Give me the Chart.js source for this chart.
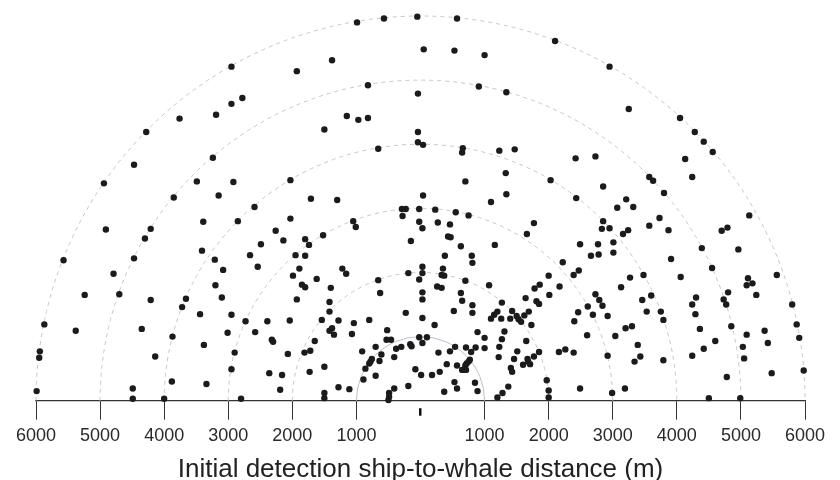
<!DOCTYPE html>
<html>
<head>
<meta charset="utf-8">
<script src="https://cdn.jsdelivr.net/npm/chart.js@4/dist/chart.umd.min.js"></script>
<style>
  body { margin: 0; background: #fff; }
</style>
</head>
<body>
<canvas id="chart" width="840" height="480"></canvas>
<script>
// Sighting positions in metres: [lateral (left -, right +), ahead]
const sightings = [
  [-3760,4400],[-3190,4460],[-4280,4190],[-4470,3680],[-3240,3790],[-4940,3390],[-3490,3420],[-3850,3170],[-3150,3200],
  [-990,5900],[-570,5960],[-50,5990],[-2950,5210],[-1380,5310],[-1930,5140],[-820,4920],[-40,4790],[-2950,4630],
  [-2780,4720],[-1150,4440],[-970,4380],[-820,4410],[-1500,4230],[-40,4190],[-40,4030],[-660,3930],[-2920,3410],
  [-2030,3440],[-1710,3150],[-1300,3130],
  [570,5960],[2100,5610],[2950,5210],[50,5480],[530,5460],[1000,5390],[910,4900],[1340,4810],[40,3990],[660,3940],
  [650,3870],[1230,3900],[1470,3920],[2420,3780],[2730,3810],[1330,3550],[700,3420],[2030,3440],[2850,3340],[40,3200],
  [1340,3220],[1100,3100],[2430,3160],
  [3250,4550],[4050,4410],[4280,4190],[4420,4040],[4560,3880],[4130,3770],[4240,3490],[3570,3490],[3630,3430],
  [3800,3240],[3210,3140],
  [-3390,2790],[-4910,2670],[-4210,2680],[-4300,2530],[-3410,2340],[-3210,2200],[-5570,2190],[-4470,2220],[-3080,2040],
  [-4790,1980],[-3200,1800],[-4700,1660],[-5240,1650],[-3100,1610],[-3660,1590],[-4210,1570],[-3720,1460],[-3440,1350],
  [-5870,1190],[-5380,1090],[-4350,1120],[-3870,1000],[-3380,870],[-5940,770],[-5950,670],[-4140,690],[-3880,300],
  [-3340,260],[-5990,150],[-4490,190],[-4490,30],[-4000,30],
  [-2590,3020],[-2850,2800],[-2030,2840],[-290,2990],[-230,2990],[-20,2990],[-280,2880],[-1050,2800],[-1010,2710],
  [-20,2790],[-2260,2650],[-2140,2500],[-1800,2520],[-1740,2430],[-1520,2580],[-2490,2440],[-150,2490],[-2660,2270],
  [-1950,2270],[-1800,2260],[-2540,2090],[-1890,2060],[-1220,2060],[-1160,1980],[-190,1990],[-20,1890],[-660,1880],
  [-630,1680],[-1990,1950],[-1620,1900],[-1850,1810],[-1800,1770],[-1400,1760],[-1930,1580],[-1420,1540],[-1420,1390],
  [-2950,1340],[-2730,1240],[-2390,1240],[-2040,1250],[-1540,1260],[-1280,1250],[-1040,1210],[-800,1260],[-230,1370],
  [-3010,1060],[-2580,1070],[-1420,1090],[-1380,1130],[-1350,1030],[-1070,1040],[-520,1100],[-2320,950],[-2300,920],
  [-1650,930],[-530,950],[-460,950],[-20,990],[-160,880],[-140,850],[-300,840],[-380,810],[-700,840],[-2900,750],
  [-1810,750],[-1720,780],[-2070,730],[-910,770],[-610,720],[-760,650],[-780,610],[-800,580],[-640,620],[-410,680],
  [-2950,490],[-1500,530],[-860,500],[-80,490],[-2360,430],[-1730,450],[-2160,400],[-890,330],[-700,390],[-2190,170],
  [-1280,210],[-1110,180],[-410,190],[-190,230],[-1500,120],[-1500,40],[-2800,30],[-490,120],[-490,60],[-500,10],
  [230,2980],[550,2940],[750,2890],[30,2690],[270,2780],[460,2750],[430,2560],[470,2550],[630,2410],[1160,2430],
  [1660,2600],[1770,2770],[380,2260],[800,2260],[810,2150],[30,2090],[350,2060],[30,1990],[330,1960],[370,1950],
  [260,1780],[330,1760],[700,1870],[1070,1800],[30,1690],[30,1580],[630,1680],[650,1560],[810,1490],[810,1370],
  [520,1400],[30,1290],[220,1180],[1270,1530],[1430,1400],[1200,1390],[1150,1340],[1100,1280],[1260,1280],[1400,1280],
  [1500,1320],[1530,1270],[1570,1230],[1620,1330],[1690,1390],[1730,1180],[1640,1600],[1810,1550],[1850,1510],
  [1780,1750],[1860,1810],[2000,1950],[2010,1650],[2170,1780],[2220,2160],[2390,1960],[2470,2030],[2490,2440],
  [2660,2260],[2770,2440],[2780,2280],[2850,2800],[2830,2680],[2950,2690],[3010,2470],[3010,2310],[2730,1660],
  [2790,1570],[2840,1480],[2610,1470],[2460,1380],[2690,1340],[2920,1320],[2400,1240],[2600,1020],[30,900],[100,990],
  [10,400],[890,1070],[1000,980],[1000,820],[1270,960],[1310,1080],[1230,840],[1650,930],[1510,770],[540,840],
  [460,770],[280,750],[710,830],[790,760],[860,830],[1220,680],[1460,650],[1670,650],[1680,610],[1770,690],[1850,760],
  [1600,560],[1710,570],[2160,760],[2260,800],[2390,750],[2920,700],[770,640],[750,610],[720,580],[700,550],[570,550],
  [410,570],[300,450],[180,400],[650,480],[710,480],[1410,510],[1430,450],[530,290],[570,190],[850,280],[890,150],
  [370,140],[1370,220],[1280,120],[1200,50],[1970,320],[2000,160],[2000,50],[2490,190],[2990,120],
  [3070,3010],[3320,3020],[5130,2890],[3730,2850],[3570,2730],[3870,2660],[3160,2600],[3240,2660],[4700,2650],
  [4790,2700],[4390,2380],[4960,2360],[3910,2210],[4550,2070],[3480,1960],[3270,1920],[4060,1930],[5560,1960],
  [5110,1910],[5180,1830],[5090,1800],[3130,1770],[4800,1690],[5240,1650],[3600,1640],[3460,1570],[4300,1610],
  [4730,1580],[4770,1500],[4240,1500],[5800,1500],[3530,1390],[3750,1390],[4290,1350],[3790,1260],[5870,1190],
  [4850,1160],[4360,1120],[3200,1130],[3300,1160],[3040,1010],[5090,1030],[5370,1090],[5910,980],[5420,900],
  [5030,840],[5050,660],[4600,930],[4420,810],[4240,700],[3390,870],[3430,690],[3340,610],[3790,630],[5980,470],
  [5480,430],[4780,370],[3190,190],[4500,40],[4990,40]
];

// Range rings (m) and axis ticks
const ringRadii = [1000, 2000, 3000, 4000, 5000, 6000];
const tickValues = [-6000, -5000, -4000, -3000, -2000, -1000, 0, 1000, 2000, 3000, 4000, 5000, 6000];
const axisTitle = 'Initial detection ship-to-whale distance (m)';

Chart.defaults.font.family = '"Liberation Sans", Arial, Helvetica, sans-serif';
Chart.defaults.color = '#2a2a2a';

// Draws the half rings and the short mark at the ship position
const ringPlugin = {
  id: 'rings',
  beforeDatasetsDraw(chart) {
    const { ctx, scales: { x, y } } = chart;
    const cx = x.getPixelForValue(0), cy = y.getPixelForValue(0);
    ringRadii.forEach((r, i) => {
      const rx = x.getPixelForValue(r) - cx;
      const ry = cy - y.getPixelForValue(r);
      ctx.save();
      ctx.beginPath();
      ctx.ellipse(cx, cy, rx, ry, 0, Math.PI, 2 * Math.PI);
      ctx.lineWidth = 1;
      if (i === 0) {
        ctx.strokeStyle = '#bcc0c8';
      } else {
        ctx.setLineDash([4, 4]);
        ctx.strokeStyle = '#c6c6c6';
      }
      ctx.stroke();
      ctx.restore();
    });
  },
  afterDraw(chart) {
    const { ctx, scales: { x, y } } = chart;
    const cx = x.getPixelForValue(0), cy = y.getPixelForValue(0);
    ctx.save();
    ctx.fillStyle = '#111';
    ctx.fillRect(cx - 1.5, cy + 7.5, 2.5, 7.5);
    ctx.restore();
  }
};

const ctx = document.getElementById('chart').getContext('2d');
new Chart(ctx, {
  type: 'scatter',
  data: {
    datasets: [{
      data: sightings.map(p => ({ x: p[0], y: p[1] })),
      backgroundColor: '#1b1b1b',
      borderColor: '#1b1b1b',
      borderWidth: 0,
      pointRadius: 3.2,
      pointHoverRadius: 3.2,
      clip: false
    }]
  },
  options: {
    responsive: false,
    animation: false,
    events: [],
    layout: { padding: { left: 36, right: 35, top: 16, bottom: 0 } },
    plugins: { legend: { display: false }, tooltip: { enabled: false } },
    scales: {
      x: {
        type: 'linear',
        min: -6000,
        max: 6000,
        afterBuildTicks: scale => { scale.ticks = tickValues.map(v => ({ value: v })); },
        ticks: {
          autoSkip: false,
          maxRotation: 0,
          padding: 7,
          color: '#2a2a2a',
          font: { size: 18, lineHeight: 1 },
          callback: v => (v === 0 ? '' : String(Math.abs(v)))
        },
        grid: {
          drawOnChartArea: false,
          drawTicks: true,
          tickLength: 19,
          tickWidth: 1,
          tickColor: c => (c.tick && c.tick.value === 0 ? 'rgba(0,0,0,0)' : '#333')
        },
        border: { display: true, color: '#333', width: 1.2 },
        title: {
          display: true,
          text: axisTitle,
          color: '#222',
          font: { size: 26, lineHeight: 0.8 },
          padding: { top: 7.5, bottom: 0 }
        }
      },
      y: {
        type: 'linear',
        display: false,
        min: 0,
        max: 6000
      }
    }
  },
  plugins: [ringPlugin]
});
</script>
</body>
</html>
